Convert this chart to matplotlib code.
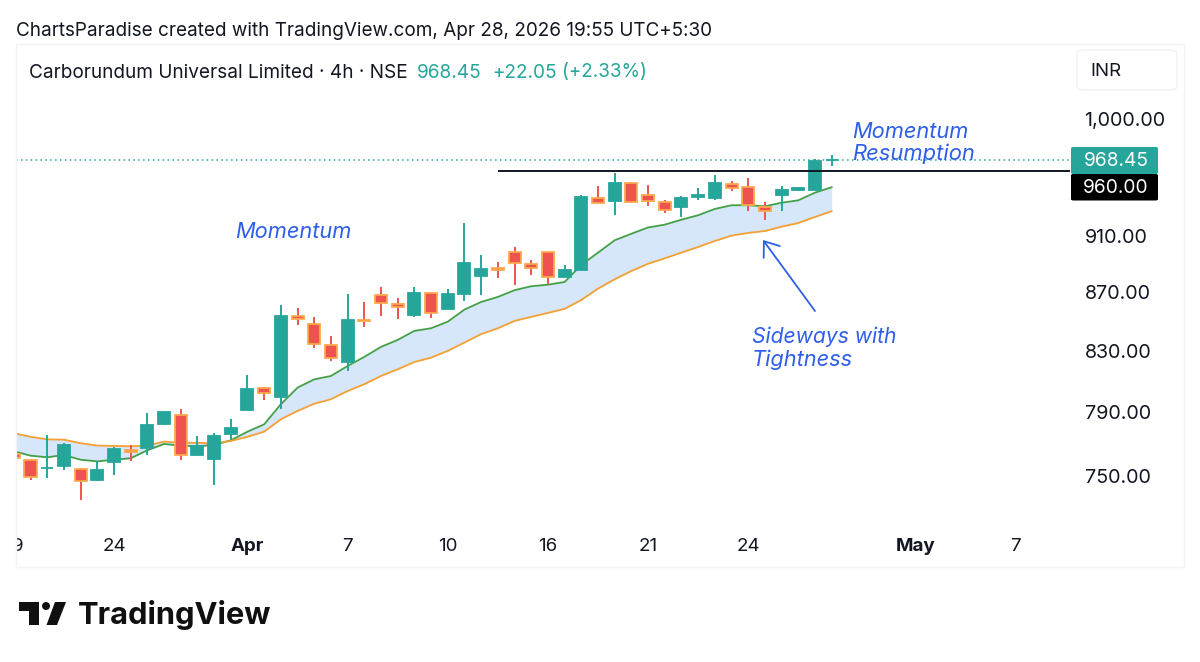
import matplotlib
matplotlib.use("Agg")
import matplotlib.pyplot as plt
from matplotlib.patches import FancyBboxPatch, Rectangle, Polygon, FancyArrowPatch, Ellipse
from matplotlib.ticker import NullLocator, NullFormatter
from matplotlib.transforms import Bbox, TransformedBbox

plt.rcParams['font.family'] = ['Inter', 'DejaVu Sans']

W, H = 1200, 662

candle_index = list(range(-1, 49))
opens = [764.2,760.1,755.2,756.8,754.8,748.2,758.9,766.7,767.6,782.5,788.2,763.4,760.8,776.2,791.6,806,800,853.8,848.7,834.4,
         822.8,851,868.3,862.2,854.9,869.7,859,869.2,881.8,887.5,899.1,890.4,899.1,881,886.3,938.8,937,950.2,941.6,936.3,
         932.5,939.6,939.3,949.9,947.4,932,941.4,945.4,944.9,967.9]
highs = [764.6,760.8,775.6,770.9,755.6,759.7,768.6,769.4,789.7,790.6,792.1,775.2,777.2,785.7,814.1,806.2,861.7,859.7,853.3,840.3,
         869.2,863.8,873.9,866.6,874.1,869.8,872.5,920.1,897.1,891.9,902.5,893.1,899.2,889.5,941.6,948,958.1,951.5,948.7,937.3,
         940.4,946.9,956.8,951.8,954,935.8,948,946.9,968.8,972.1]
lows = [761,748,749.4,754,736.4,747.8,751.2,759.7,763.4,781.8,760.3,763.4,745.2,772.7,791.6,797.8,792.1,847.6,832.2,823.7,
        816.7,846.4,854,852.1,853.3,852.6,859,864.1,868.7,880.2,875.5,882.8,876,881,886.3,935.5,926.1,935,933,927.8,
        924.8,937.8,937.8,944.6,929.5,922.8,929.5,944.2,944.9,963.4]
closes = [761.6,750,755.6,769.6,747.8,754,767.1,765.1,782.3,790.4,763.6,769.2,775,780.4,804.9,802.5,853.8,852.1,834.7,825.3,
          851.2,850.3,862.7,860.4,869.9,856,869,891.4,887,885.9,891,887.8,881,886.3,939.8,935.5,950.2,935.8,936.8,930.3,
          939.1,941.1,950.2,946.4,933.5,929,944.9,946.9,967.5,968.45]
ema_fast = [765.7,763,762,763.4,760.5,759.5,760.5,761.4,766.3,770.2,769.2,768.8,769.6,772.5,777.9,782.5,795.3,806,811.4,813.6,
            820.2,826.2,832.9,837.6,843.7,845.5,850,858.3,863.6,867.1,871.8,874.6,875.7,877.6,889.7,898.6,907.6,912.4,917,919.1,
            922.8,926.1,930.8,933.6,933.6,932.8,935.5,937.3,943.1,947.2]
ema_slow = [776.9,774.7,773.1,772.9,770.7,769.2,769,768.8,769.2,771.7,771,770.9,770.7,772.1,774.7,777.9,785.7,791,795.6,798.5,
            803.8,808.2,813.6,818,822.8,825.7,830.2,835.8,841.5,845.5,850.5,853.3,856,858.8,865,872.9,879.5,885.4,890.6,894.5,
            898.6,902.7,907.1,911,913,914.4,917.6,920.3,924.8,929.1]

price_ticks = [1000, 910, 870, 830, 790, 750]
price_tick_labels = ["1,000.00", "910.00", "870.00", "830.00", "790.00", "750.00"]
time_ticks = [-0.75, 5, 13, 19, 25, 31, 37, 43, 53, 59]
time_labels = ["9", "24", "Apr", "7", "10", "16", "21", "24", "May", "7"]
bold_time_labels = {"Apr", "May"}
last_price = 968.45
level_price = 960.0
level_start = 28.0

UP, DOWN, EDGE_DOWN = "#26a69a", "#ef5350", "#ffa94d"
FAST, SLOW, BAND, NOTE, INK = "#43a047", "#f5a033", "#d6e6fb", "#2f5fe8", "#131722"

fig = plt.figure(figsize=(W / 100, H / 100), dpi=100, facecolor="white")


def fx(px):
    return px / W


def fy(px):
    return 1 - px / H


def ftext(px, py, s, **kw):
    kw.setdefault("va", "center")
    kw.setdefault("color", INK)
    return fig.text(fx(px), fy(py + 1.5), s, **kw)


fig.add_artist(Rectangle((fx(16), fy(567)), fx(1168), (567 - 44) / H, transform=fig.transFigure,
                         fill=False, ec="#f2f3f6", lw=1))

AX_TOP, AX_BOTTOM, AX_LEFT, AX_RIGHT = 46, 528, 16, 1070
ax = fig.add_axes([fx(AX_LEFT), fy(AX_BOTTOM), fx(AX_RIGHT - AX_LEFT), (AX_BOTTOM - AX_TOP) / H])
ax.set_yscale("log")
ax.set_xlim(-0.869, 62.28)
ax.set_ylim(719.8, 1061.4)
for s in ax.spines.values():
    s.set_visible(False)
ax.xaxis.set_major_locator(NullLocator())
ax.yaxis.set_major_locator(NullLocator())
ax.yaxis.set_minor_locator(NullLocator())
ax.yaxis.set_minor_formatter(NullFormatter())

ax.fill_between(candle_index, ema_fast, ema_slow, color=BAND, lw=0, zorder=1)
ax.plot(candle_index, ema_fast, color=FAST, lw=1.3, zorder=2)
ax.plot(candle_index, ema_slow, color=SLOW, lw=1.3, zorder=2)

for i, o, h, l, c in zip(candle_index, opens, highs, lows, closes):
    up = c >= o
    col = UP if up else DOWN
    ax.vlines(i, l, h, color=col, lw=1.4, zorder=3)
    ax.bar(i, abs(c - o), bottom=min(o, c), width=0.72, color=col,
           edgecolor=UP if up else EDGE_DOWN, linewidth=1.3, zorder=4)

ax.axhline(last_price, color=UP, lw=1.1, ls=(0, (1, 2.2)), zorder=5)
ax.hlines(level_price, level_start, 62.28, color="#131722", lw=1.4, zorder=6)

ytrans = ax.get_yaxis_transform()
for v, lab in zip(price_ticks, price_tick_labels):
    txt = ax.text((1084.5 - AX_LEFT) / (AX_RIGHT - AX_LEFT), v, lab, transform=ytrans, ha="left", va="center",
                  fontsize=14.2, color=INK, clip_on=False)
    txt.set_y(v * 0.9988)

xtrans = ax.get_xaxis_transform()
clip = TransformedBbox(Bbox([[fx(16), 0], [1, 1]]), fig.transFigure)
for t, lab in zip(time_ticks, time_labels):
    txt = ax.text(t, -(546.5 - AX_BOTTOM) / (AX_BOTTOM - AX_TOP), lab, transform=xtrans, ha="center", va="center",
                  fontsize=13.5, color=INK, fontweight="bold" if lab in bold_time_labels else "normal")
    txt.set_clip_box(clip)
    txt.set_clip_on(True)


def note(px, py, s, size):
    ftext(px, py, s, fontsize=size, style="italic", color=NOTE, ha="left")


note(235, 231, "Momentum", 15.7)
note(852, 130, "Momentum", 15.7)
note(852, 152, "Resumption", 15.8)
note(752, 335, "Sideways with", 15.2)
note(752, 358, "Tightness", 15.7)
fig.add_artist(FancyArrowPatch((fx(815), fy(311)), (fx(763), fy(240)), transform=fig.transFigure,
                               arrowstyle="->,head_length=4,head_width=3", color=NOTE, lw=1.3,
                               shrinkA=0, shrinkB=0, mutation_scale=2.4))

ftext(16, 29, "ChartsParadise created with TradingView.com, Apr 28, 2026 19:55 UTC+5:30", fontsize=13.63, ha="left")
ftext(29, 71, "Carborundum Universal Limited · 4h · NSE", fontsize=13.7, ha="left")
ftext(417, 71, "968.45", fontsize=13.7, ha="left", color=UP)
ftext(492, 71, "+22.05", fontsize=13.7, ha="left", color=UP)
ftext(561.5, 71, "(+2.33%)", fontsize=13.6, ha="left", color=UP)

fig.add_artist(FancyBboxPatch((fx(1077), fy(90)), fx(100), 40 / H, transform=fig.transFigure,
                              boxstyle="round,pad=0,rounding_size=0.006", fc="white", ec="#f0f1f4", lw=1))
ftext(1090, 70.5, "INR", fontsize=13.5, ha="left")

fig.add_artist(FancyBboxPatch((fx(1071), fy(174)), fx(87), 27 / H, transform=fig.transFigure,
                              boxstyle="round,pad=0,rounding_size=0.002", fc=UP, ec="none"))
fig.add_artist(FancyBboxPatch((fx(1071), fy(200.5)), fx(87), 26.5 / H, transform=fig.transFigure,
                              boxstyle="round,pad=0,rounding_size=0.002", fc="black", ec="none"))
ftext(1116, 159.5, "968.45", fontsize=13.8, ha="center", color="white")
ftext(1116, 186.5, "960.00", fontsize=13.8, ha="center", color="white")

# TradingView logo
logo = "#101010"
for pts in ([(19, 602), (38.5, 602), (38.5, 625), (29, 625), (29, 610.5), (19, 610.5)],
            [(55, 602), (66, 602), (57, 625), (46.5, 625)]):
    fig.add_artist(Polygon([(fx(a), fy(b)) for a, b in pts], closed=True, transform=fig.transFigure, fc=logo, ec="none"))
fig.add_artist(Ellipse((fx(46), fy(606)), 8 / W, 8 / H, transform=fig.transFigure, fc=logo, ec="none"))
ftext(78, 614, "TradingView", fontsize=22.2, fontweight="bold", ha="left", color=logo)

fig.savefig("out.png", dpi=100, facecolor="white")
